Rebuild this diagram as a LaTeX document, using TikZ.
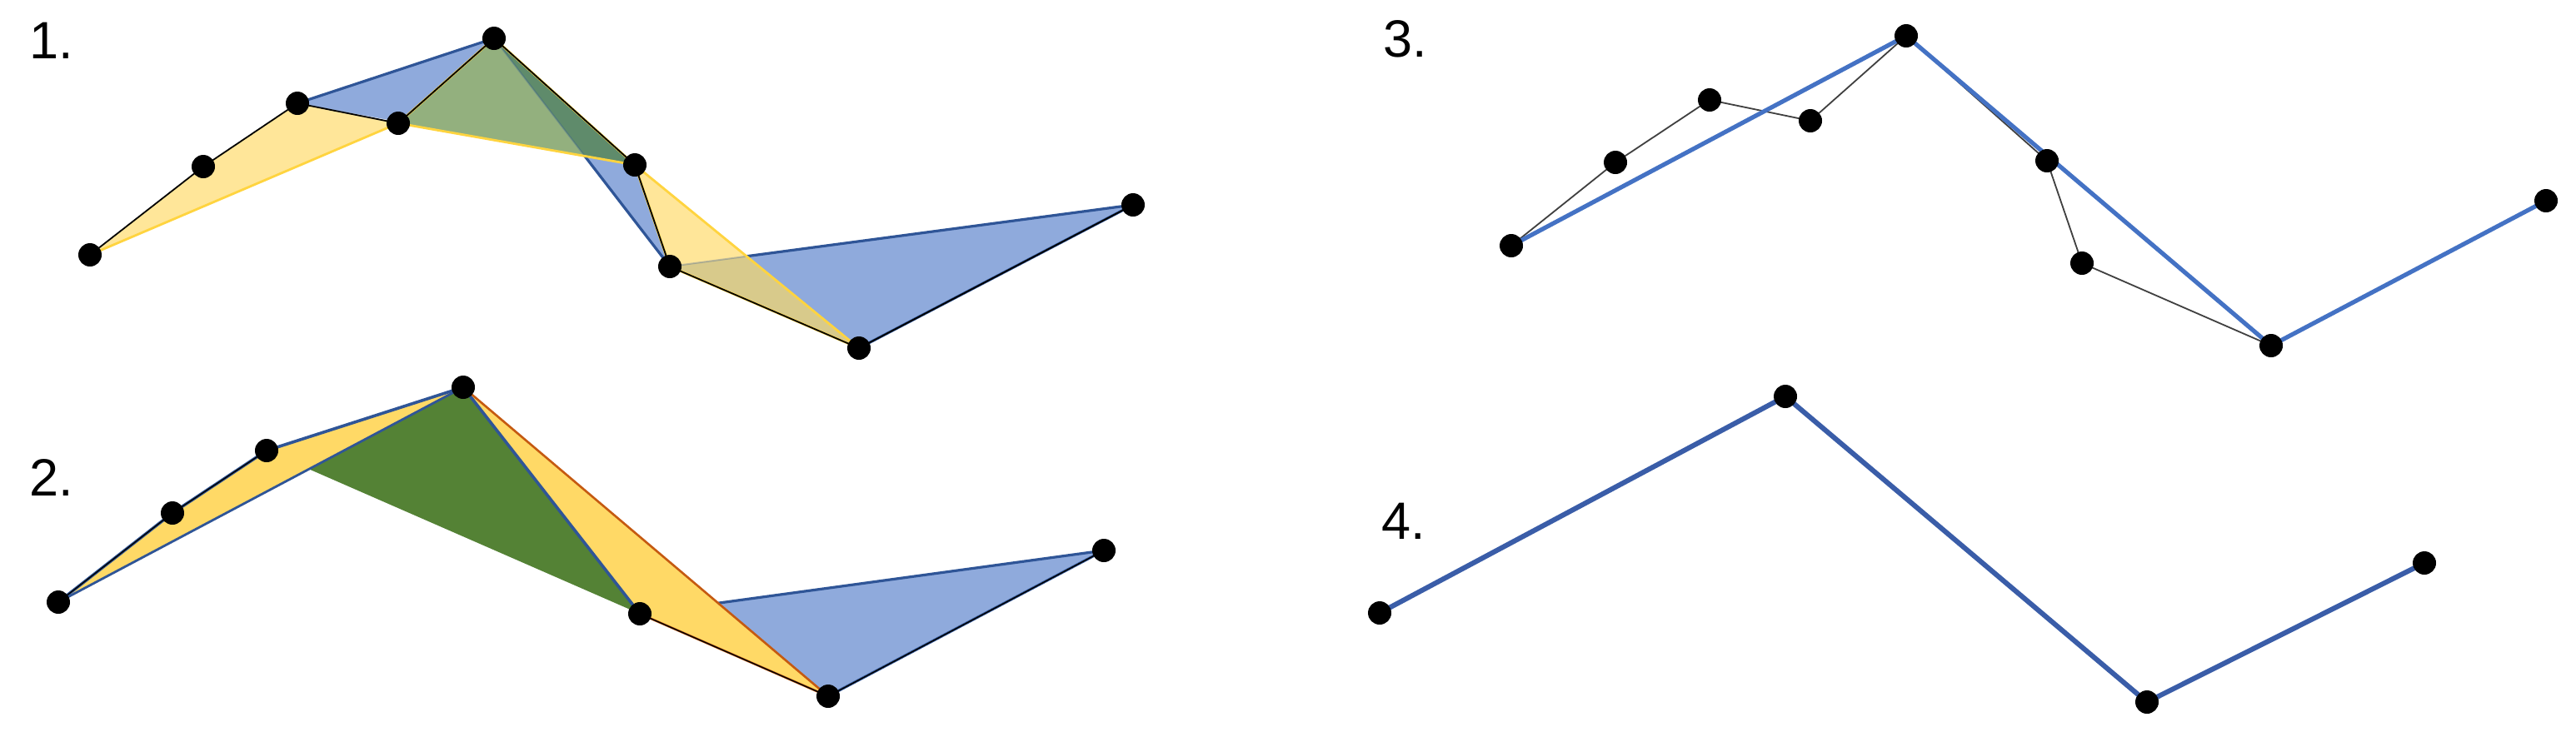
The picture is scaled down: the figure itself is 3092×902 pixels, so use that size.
\documentclass[tikz,border=0pt]{standalone}
\usepackage{fontspec}
\setmainfont{Liberation Sans}
\definecolor{bfill}{HTML}{8FAADC}
\definecolor{bedge}{HTML}{2F5597}
\definecolor{yfillA}{HTML}{FFE699}
\definecolor{yedge}{HTML}{FFD43F}
\definecolor{gfillA}{HTML}{93B07E}
\definecolor{gdark}{HTML}{5F8B6B}
\definecolor{olivefill}{HTML}{D8CA8B}
\definecolor{yfillB}{HTML}{FFD966}
\definecolor{gfillB}{HTML}{548235}
\definecolor{orng}{HTML}{C55A11}
\definecolor{lblue}{HTML}{4472C4}
\definecolor{dblue}{HTML}{3A5DA8}
\begin{document}
\begin{tikzpicture}[x=0.5pt,y=-0.5pt,
  dot/.style={circle,fill=black,inner sep=0pt,minimum size=14pt},
  lbl/.style={anchor=base west,inner sep=0pt,font=\fontsize{31.5}{36}\selectfont},
  bline/.style={bedge,line width=1.6pt,line join=round},
  yline/.style={yedge,line width=1.4pt,line join=round},
  kline/.style={black,line width=0.9pt,line join=round}]
\useasboundingbox (0,0) rectangle (3092,902);
\fill[white] (0,0) rectangle (3092,902);

% ---------- panel 1 ----------
\coordinate (p1) at (108,306);
\coordinate (p2) at (244,200);
\coordinate (p3) at (357,124);
\coordinate (p4) at (478,148);
\coordinate (p5) at (593,46);
\coordinate (p6) at (762,198);
\coordinate (p7) at (804,320);
\coordinate (p8) at (1031,418);
\coordinate (p9) at (1360,246);

\fill[bfill] (p3)--(p5)--(p6)--cycle;
\fill[bfill] (p5)--(p7)--(p6)--cycle;
\fill[bfill] (p7)--(p9)--(p8)--cycle;
\draw[bline] (p3)--(p5)--(p7)--(p9)--(p8);
\fill[yfillA] (p1)--(p2)--(p3)--(p4)--cycle;
\fill[gfillA] (p4)--(p5)--(p6)--cycle;
\begin{scope}
  \clip (p5)--(p7)--(p6)--cycle;
  \fill[gdark] (p4)--(p5)--(p6)--cycle;
\end{scope}
\fill[yfillA] (p6)--(p7)--(p8)--cycle;
\begin{scope}
  \clip (p7)--(p9)--(p8)--cycle;
  \fill[olivefill] (p6)--(p7)--(p8)--cycle;
\end{scope}
\draw[bedge,opacity=0.3,line width=1pt] (p7)--(p9);
\draw[bedge,opacity=0.3,line width=1pt] (p5)--(p7);
\draw[yline] (p1)--(p4);
\draw[yline] (p4)--(p5)--(p6)--cycle;
\draw[yline] (p6)--(p7)--(p8)--cycle;
\draw[kline] (p1)--(p2)--(p3)--(p4)--(p5)--(p6)--(p7)--(p8)--(p9);

% ---------- panel 2 ----------
\coordinate (q1) at (70,723);
\coordinate (q2) at (207,616);
\coordinate (q3) at (320,541);
\coordinate (q4) at (556,465);
\coordinate (q5) at (768,737);
\coordinate (q6) at (994,836);
\coordinate (q7) at (1325,661);

\fill[gfillB] (q3)--(q4)--(q5)--cycle;
\fill[bfill] (q5)--(q7)--(q6)--cycle;
\draw[bline] (q5)--(q7)--(q6);
\fill[yfillB] (q1)--(q2)--(q3)--(q4)--cycle;
\fill[yfillB] (q4)--(q5)--(q6)--cycle;
\draw[bedge,line width=1.4pt] (q1)--(q4);
\draw[bedge,line width=1.8pt,line join=round] (q1)--(q2)--(q3)--(q4)--(q5);
\draw[orng,line width=1.3pt,line join=round] (q4)--(q6)--(q5);
\draw[black,line width=0.7pt] (q1)--(q2)--(q3);
\draw[black,line width=0.7pt] (q5)--(q6)--(q7);

% ---------- panel 3 ----------
\coordinate (r1) at (1814,295);
\coordinate (r2) at (1939,195);
\coordinate (r3) at (2052,120);
\coordinate (r4) at (2173,145);
\coordinate (r5) at (2288,43);
\coordinate (r6) at (2457,193);
\coordinate (r7) at (2499,316);
\coordinate (r8) at (2726,415);
\coordinate (r9) at (3056,241);

\draw[black!75,line width=0.9pt,line join=round] (r1)--(r2)--(r3)--(r4)--(r5)--(r6)--(r7)--(r8);
\draw[lblue,line width=2.6pt,line join=round] (r1)--(r5)--(r8)--(r9);

% ---------- panel 4 ----------
\coordinate (s1) at (1656,736);
\coordinate (s2) at (2143,476);
\coordinate (s3) at (2577,843);
\coordinate (s4) at (2910,676);
\draw[dblue,line width=3pt,line join=round] (s1)--(s2)--(s3)--(s4);

% ---------- dots ----------
\foreach \n in {p1,p2,p3,p4,p5,p6,p7,p8,p9,q1,q2,q3,q4,q5,q6,q7,r1,r2,r3,r4,r5,r6,r7,r8,r9,s1,s2,s3,s4}
  \node[dot] (d\n) at (\n) {};

% ---------- labels ----------
\node[lbl] (l1) at (35,70) {1.};
\node[lbl] (l2) at (35,595) {2.};
\node[lbl] (l3) at (1660,68) {3.};
\node[lbl] (l4) at (1658,647) {4.};
\end{tikzpicture}
\end{document}
